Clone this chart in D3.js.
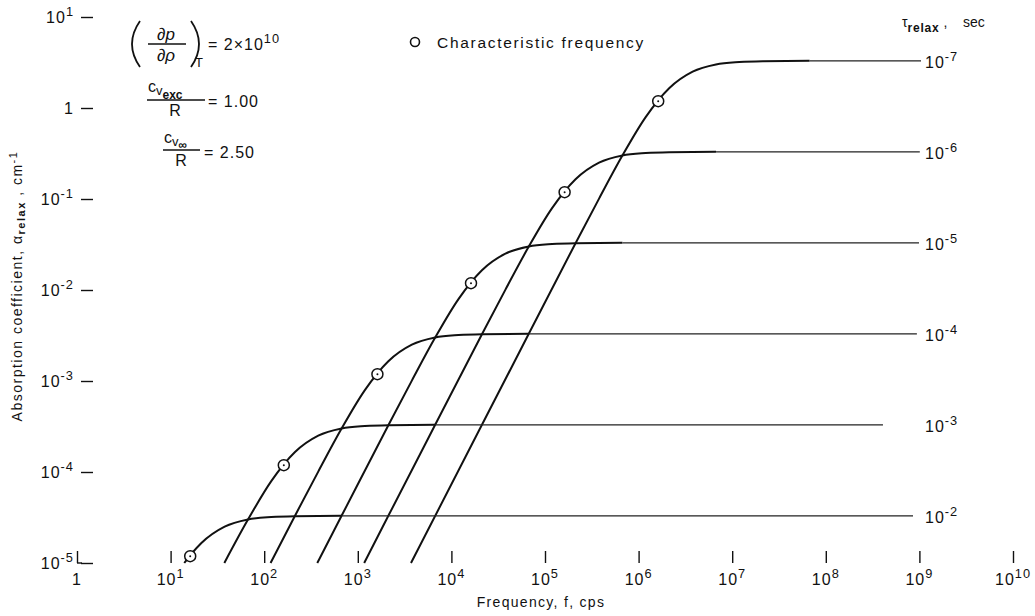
<!DOCTYPE html>
<html>
<head>
<meta charset="utf-8">
<script src="https://cdn.jsdelivr.net/npm/d3@7"></script>
<style>
  body { margin: 0; background: #fff; }
  svg text { font-family: "Liberation Sans", Arial, sans-serif; fill: #111; }
</style>
</head>
<body>
<div class="chart"></div>
<script>
// axis ticks
const xTicks = [1, 1e1, 1e2, 1e3, 1e4, 1e5, 1e6, 1e7, 1e8, 1e9, 1e10];
const xTickExp = ["", "1", "2", "3", "4", "5", "6", "7", "8", "9", "10"];
const yTicks = [1e-5, 1e-4, 1e-3, 1e-2, 1e-1, 1, 10];
const yTickExp = ["-5", "-4", "-3", "-2", "-1", "", "1"];

// relaxation times, exponent of 10 (sec)
const tauExp = ["-7", "-6", "-5", "-4", "-3", "-2"];

// curves: [frequency cps, absorption cm^-1]
const curve7 = [[3.70e3, 1e-5], [2.12e4, 3.30e-4], [6.71e4, 3.30e-3], [2.12e5, 3.27e-2], [3.78e5, 0.101],
  [6.71e5, 0.300], [1.19e6, 0.794], [2.12e6, 1.65], [3.78e6, 2.51], [6.71e6, 3.01], [1.19e7, 3.20],
  [2.12e7, 3.27], [6.71e7, 3.30], [1.04e9, 3.30]];
const curve6 = [[1.17e3, 1e-5], [2.12e3, 3.30e-5], [6.71e3, 3.30e-4], [2.12e4, 3.27e-3], [3.78e4, 1.01e-2],
  [6.71e4, 3.00e-2], [1.19e5, 7.94e-2], [2.12e5, 0.165], [3.78e5, 0.251], [6.71e5, 0.301], [1.19e6, 0.320],
  [2.12e6, 0.327], [6.71e6, 0.330], [1.01e9, 0.330]];
const curve5 = [[3.69e2, 1e-5], [6.71e2, 3.30e-5], [2.12e3, 3.27e-4], [3.78e3, 1.01e-3], [6.71e3, 3.00e-3],
  [1.19e4, 7.94e-3], [2.12e4, 1.65e-2], [3.78e4, 2.51e-2], [6.71e4, 3.01e-2], [1.19e5, 3.20e-2],
  [2.12e5, 3.27e-2], [6.71e5, 3.30e-2], [9.9e8, 3.30e-2]];
const curve4 = [[1.17e2, 1e-5], [2.12e2, 3.27e-5], [3.78e2, 1.01e-4], [6.71e2, 3.00e-4], [1.19e3, 7.94e-4],
  [2.12e3, 1.65e-3], [3.78e3, 2.51e-3], [6.71e3, 3.01e-3], [1.19e4, 3.20e-3], [2.12e4, 3.27e-3],
  [6.71e4, 3.30e-3], [9.4e8, 3.30e-3]];
const curve3 = [[37.5, 1e-5], [67.1, 3.00e-5], [119, 7.94e-5], [212, 1.65e-4], [378, 2.51e-4], [671, 3.01e-4],
  [1.19e3, 3.20e-4], [2.12e3, 3.27e-4], [6.71e3, 3.30e-4], [4.08e8, 3.30e-4]];
const curve2 = [[14.0, 1e-5], [16.9, 1.28e-5], [21.2, 1.65e-5], [37.8, 2.51e-5], [67.1, 3.01e-5], [119, 3.20e-5],
  [212, 3.27e-5], [671, 3.30e-5], [8.55e8, 3.30e-5]];
const curves = [curve7, curve6, curve5, curve4, curve3, curve2];

// characteristic frequency points
const charFreq = [1.62e6, 1.62e5, 1.62e4, 1.62e3, 162, 16.2];
const charAlpha = [1.19, 0.119, 1.19e-2, 1.19e-3, 1.19e-4, 1.19e-5];

const width = 1035;
const height = 616;

const svg = d3.select("div.chart")
  .append("svg")
  .attr("width", width)
  .attr("height", height);

const x = d3.scaleLog().domain([1, 1e10]).range([77, 1013]);
const y = d3.scaleLog().domain([1e-5, 10]).range([563, 17]);

// superscript helper
function addPow(text, base, exp, size) {
  text.append("tspan").text(base);
  if (exp !== "") {
    text.append("tspan")
      .attr("dy", -size * 0.42)
      .attr("font-size", size * 0.8)
      .text(exp);
  }
}

// x ticks
const xAxis = svg.append("g")
  .attr("transform", "translate(0,551)")
  .call(d3.axisBottom(x).tickValues(xTicks).tickSize(12).tickFormat(""));
xAxis.select(".domain").remove();
xAxis.selectAll("line").attr("stroke", "#111").attr("stroke-width", 1.4);

xTicks.forEach((v, i) => {
  const t = svg.append("text")
    .attr("x", x(v))
    .attr("y", 585)
    .attr("text-anchor", "middle")
    .attr("font-size", 16)
    .attr("letter-spacing", 1);
  addPow(t, xTickExp[i] === "" ? "1" : "10", xTickExp[i], 16);
});

// y ticks
const yAxis = svg.append("g")
  .attr("transform", "translate(81,0)")
  .call(d3.axisRight(y).tickValues(yTicks).tickSize(12).tickFormat(""));
yAxis.select(".domain").remove();
yAxis.selectAll("line").attr("stroke", "#111").attr("stroke-width", 1.4);

// corner of the frame
svg.append("line")
  .attr("x1", x(1)).attr("x2", 82)
  .attr("y1", y(1e-5)).attr("y2", y(1e-5))
  .attr("stroke", "#111").attr("stroke-width", 1.4);

yTicks.forEach((v, i) => {
  const t = svg.append("text")
    .attr("x", 74)
    .attr("y", y(v) + 6)
    .attr("text-anchor", "end")
    .attr("font-size", 16)
    .attr("letter-spacing", 1);
  addPow(t, yTickExp[i] === "" ? "1" : "10", yTickExp[i], 16);
});

// axis titles
svg.append("text")
  .attr("x", 541)
  .attr("y", 607)
  .attr("text-anchor", "middle")
  .attr("font-size", 14)
  .attr("letter-spacing", 1.3)
  .text("Frequency, f, cps");

const yTitle = svg.append("text")
  .attr("transform", "translate(22,286) rotate(-90)")
  .attr("text-anchor", "middle")
  .attr("font-size", 14)
  .attr("letter-spacing", 1.5);
yTitle.append("tspan").text("Absorption coefficient, \u03b1");
yTitle.append("tspan").attr("dy", 3).attr("font-size", 11).attr("font-weight", "bold").text("relax");
yTitle.append("tspan").attr("dy", -3).text(" , cm");
yTitle.append("tspan").attr("dy", -5).attr("font-size", 11).text("-1");

// curves
const line = d3.line()
  .x(d => x(d[0]))
  .y(d => y(d[1]))
  .curve(d3.curveMonotoneX);

curves.forEach(c => {
  svg.append("path")
    .attr("d", line(c.slice(0, c.length - 1)))
    .attr("fill", "none")
    .attr("stroke", "#111")
    .attr("stroke-width", 2);
  svg.append("path")
    .attr("d", line(c.slice(c.length - 2)))
    .attr("fill", "none")
    .attr("stroke", "#222")
    .attr("stroke-width", 1.3);
});

// curve labels
curves.forEach((c, i) => {
  const last = c[c.length - 1];
  const t = svg.append("text")
    .attr("x", 925)
    .attr("y", y(last[1]) + 7)
    .attr("font-size", 16)
    .attr("letter-spacing", 1);
  addPow(t, "10", tauExp[i], 16);
});

// characteristic frequency markers
charFreq.forEach((f, i) => {
  svg.append("circle")
    .attr("cx", x(f)).attr("cy", y(charAlpha[i]))
    .attr("r", 5.5)
    .attr("fill", "#fff")
    .attr("stroke", "#111")
    .attr("stroke-width", 1.5);
  svg.append("circle")
    .attr("cx", x(f)).attr("cy", y(charAlpha[i]))
    .attr("r", 1)
    .attr("fill", "#111");
});

// legend
svg.append("circle")
  .attr("cx", 415).attr("cy", 42).attr("r", 4.5)
  .attr("fill", "none").attr("stroke", "#111").attr("stroke-width", 1.6);
svg.append("text")
  .attr("x", 437).attr("y", 48)
  .attr("font-size", 15.5)
  .attr("letter-spacing", 1.7)
  .text("Characteristic frequency");

// tau header
const tau = svg.append("text").attr("x", 902).attr("y", 27).attr("font-size", 14);
tau.append("tspan").text("\u03c4");
tau.append("tspan").attr("dy", 5).attr("font-size", 12).attr("font-weight", "bold").attr("letter-spacing", 0.8).text("relax");
tau.append("tspan").attr("dy", -5).text(" ,");
tau.append("tspan").attr("x", 963).text("sec");

// constants block, top left
const paren = d3.path();
paren.moveTo(140, 21);
paren.quadraticCurveTo(124, 44, 140, 67);
paren.moveTo(191, 21);
paren.quadraticCurveTo(207, 44, 191, 67);
svg.append("path").attr("d", paren.toString())
  .attr("fill", "none").attr("stroke", "#111").attr("stroke-width", 1.8);

svg.append("text").attr("x", 166).attr("y", 40).attr("text-anchor", "middle")
  .attr("font-size", 17).attr("font-style", "italic").text("\u2202p");
svg.append("line").attr("x1", 148).attr("x2", 186).attr("y1", 44).attr("y2", 44)
  .attr("stroke", "#111").attr("stroke-width", 1.3);
svg.append("text").attr("x", 166).attr("y", 61).attr("text-anchor", "middle")
  .attr("font-size", 17).attr("font-style", "italic").text("\u2202\u03c1");
svg.append("text").attr("x", 195).attr("y", 67).attr("font-size", 13).text("T");
const eq1 = svg.append("text").attr("x", 208).attr("y", 50)
  .attr("font-size", 16).attr("letter-spacing", 1);
addPow(eq1, "= 2\u00d710", "10", 16);

// c_v_exc / R
const c1 = svg.append("text").attr("x", 148).attr("y", 92).attr("font-size", 16);
c1.append("tspan").text("c");
c1.append("tspan").attr("dy", 3).attr("font-size", 13).text("v");
c1.append("tspan").attr("dy", 4).attr("font-size", 12).attr("font-weight", "bold").text("exc");
svg.append("line").attr("x1", 147).attr("x2", 205).attr("y1", 100).attr("y2", 100)
  .attr("stroke", "#111").attr("stroke-width", 1.3);
svg.append("text").attr("x", 175).attr("y", 116).attr("text-anchor", "middle")
  .attr("font-size", 16).text("R");
svg.append("text").attr("x", 208).attr("y", 107).attr("font-size", 16)
  .attr("letter-spacing", 1).text("= 1.00");

// c_v_inf / R
const c2 = svg.append("text").attr("x", 164).attr("y", 143).attr("font-size", 16);
c2.append("tspan").text("c");
c2.append("tspan").attr("dy", 3).attr("font-size", 13).text("v");
c2.append("tspan").attr("dy", 3).attr("font-size", 12).attr("font-weight", "bold").text("\u221e");
svg.append("line").attr("x1", 163).attr("x2", 200).attr("y1", 150).attr("y2", 150)
  .attr("stroke", "#111").attr("stroke-width", 1.3);
svg.append("text").attr("x", 181).attr("y", 166).attr("text-anchor", "middle")
  .attr("font-size", 16).text("R");
svg.append("text").attr("x", 204).attr("y", 158).attr("font-size", 16)
  .attr("letter-spacing", 1).text("= 2.50");
</script>
</body>
</html>
